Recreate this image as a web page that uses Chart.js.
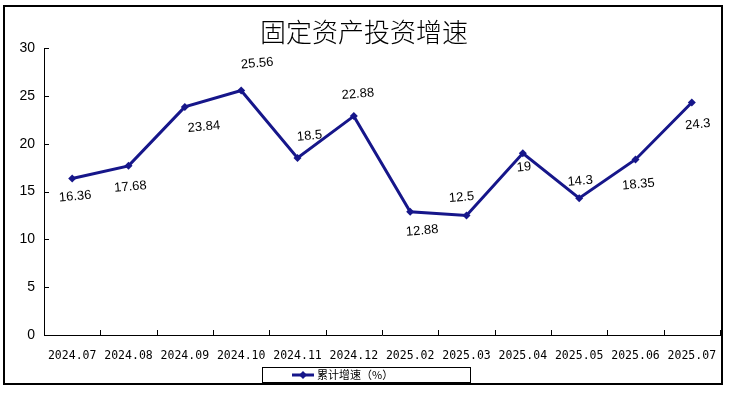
<!DOCTYPE html>
<html>
<head>
<meta charset="utf-8">
<script src="https://cdn.jsdelivr.net/npm/chart.js"></script>
<style>
  html, body { margin: 0; padding: 0; background: #fff; }
  #wrap { width: 729px; height: 393px; position: relative; }
</style>
</head>
<body>
<div id="wrap"><canvas id="growthChart" width="729" height="393"></canvas></div>
<script>
// 数据
const months = ['2024.07', '2024.08', '2024.09', '2024.10', '2024.11', '2024.12',
                '2025.02', '2025.03', '2025.04', '2025.05', '2025.06', '2025.07'];
const growth = [16.36, 17.68, 23.84, 25.56, 18.5, 22.88, 12.88, 12.5, 19, 14.3, 18.35, 24.3];
const yTicks = [0, 5, 10, 15, 20, 25, 30];
const chartTitle = '固定资产投资增速';
const seriesName = '累计增速（%）';

// 数据标签相对于点的偏移
const labelShift = [[3, 18], [2, 21], [19, 20], [16, -27], [12, -22], [4, -22],
                    [12, 19], [-5, -18], [1, 14], [1, -17], [3, 25], [6, 22]];

const lineColor = '#16168a';

const framePlugin = {
    id: 'frame',
    afterDraw(chart) {
        const c = chart.ctx;
        const area = chart.chartArea;
        const xs = chart.scales.x;
        const ys = chart.scales.y;
        c.save();
        // 外框
        c.strokeStyle = '#000';
        c.lineWidth = 2;
        c.strokeRect(4, 6, 718, 378);

        // 标题
        c.fillStyle = '#000';
        c.font = '300 26px "Noto Sans CJK SC"';
        c.textAlign = 'center';
        c.textBaseline = 'middle';
        c.fillText(chartTitle, 364, 32);

        // 刻度线（朝内）
        c.lineWidth = 1;
        c.beginPath();
        ys.ticks.forEach((t, i) => {
            const y = Math.round(ys.getPixelForTick(i)) + 0.5;
            c.moveTo(area.left, y);
            c.lineTo(area.left + 5, y);
        });
        const step = (xs.right - xs.left) / months.length;
        for (let i = 1; i <= months.length; i++) {
            const x = Math.round(xs.left + step * i) + 0.5;
            c.moveTo(x, area.bottom);
            c.lineTo(x, area.bottom - 5);
        }
        c.stroke();

        // 数据标签
        const meta = chart.getDatasetMeta(0);
        c.font = '13px "Liberation Sans", Arial';
        c.fillStyle = '#000';
        meta.data.forEach((pt, i) => {
            const s = labelShift[i];
            c.save();
            c.translate(pt.x + s[0], pt.y + s[1]);
            c.rotate(-5 * Math.PI / 180);
            c.fillText(String(growth[i]), 0, 0);
            c.restore();
        });

        // 图例
        const lx = 262, ly = 367, lw = 208, lh = 15;
        c.strokeStyle = '#000';
        c.lineWidth = 1;
        c.strokeRect(lx + 0.5, ly + 0.5, lw, lh);
        const my = ly + lh / 2 + 0.5;
        c.strokeStyle = lineColor;
        c.lineWidth = 3;
        c.beginPath();
        c.moveTo(292, my);
        c.lineTo(314, my);
        c.stroke();
        c.fillStyle = lineColor;
        c.beginPath();
        c.moveTo(303, my - 4);
        c.lineTo(307, my);
        c.lineTo(303, my + 4);
        c.lineTo(299, my);
        c.closePath();
        c.fill();
        c.fillStyle = '#000';
        c.font = '11px "Noto Sans CJK SC"';
        c.textAlign = 'left';
        c.fillText(seriesName, 317, my);
        c.restore();
    }
};

document.addEventListener('DOMContentLoaded', () => {
    const ctx = document.getElementById('growthChart').getContext('2d');
    new Chart(ctx, {
        type: 'line',
        data: {
            labels: months,
            datasets: [{
                label: seriesName,
                data: growth,
                borderColor: lineColor,
                backgroundColor: lineColor,
                borderWidth: 3,
                pointStyle: 'rectRot',
                pointRadius: 4,
                pointBorderWidth: 0,
                tension: 0
            }]
        },
        options: {
            responsive: false,
            animation: false,
            devicePixelRatio: 1,
            layout: { padding: { left: 4, top: 48, right: 9, bottom: 0 } },
            plugins: {
                legend: { display: false },
                title: { display: false },
                tooltip: { enabled: false }
            },
            scales: {
                x: {
                    offset: true,
                    grid: { display: false },
                    border: { display: true, color: '#000', width: 1 },
                    ticks: {
                        color: '#000',
                        font: { family: '"DejaVu Sans Mono"', size: 11.5 },
                        maxRotation: 0,
                        autoSkip: false,
                        padding: 6
                    },
                    afterFit(scale) { scale.height = 58; }
                },
                y: {
                    min: 0,
                    max: 30,
                    afterBuildTicks(scale) { scale.ticks = yTicks.map(v => ({ value: v })); },
                    grid: { display: false },
                    border: { display: true, color: '#000', width: 1 },
                    ticks: {
                        color: '#000',
                        font: { family: '"Liberation Sans", Arial', size: 14 },
                        padding: 1
                    },
                    afterFit(scale) { scale.width = 40; }
                }
            }
        },
        plugins: [framePlugin]
    });
});
</script>
</body>
</html>
